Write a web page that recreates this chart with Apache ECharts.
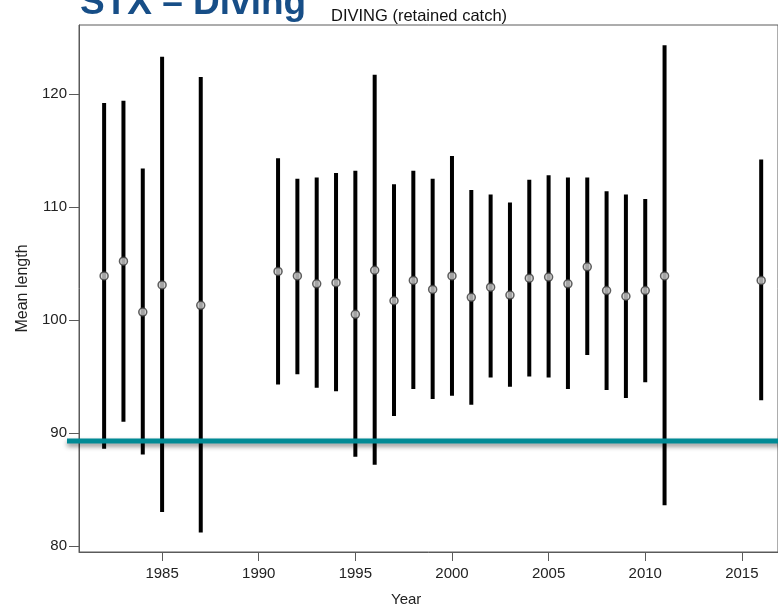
<!DOCTYPE html>
<html>
<head>
<meta charset="utf-8">
<script src="https://cdn.jsdelivr.net/npm/echarts@6/dist/echarts.min.js"></script>
<style>
  html, body { margin: 0; padding: 0; background: #fff; }
  #chart { width: 778px; height: 615px; }
</style>
</head>
<body>
<div id="chart"></div>
<script>
// Mean length of retained catch (diving), with interval bounds per year
const years       = [1982, 1983, 1984, 1985, 1987, 1991, 1992, 1993, 1994, 1995, 1996, 1997, 1998, 1999, 2000, 2001, 2002, 2003, 2004, 2005, 2006, 2007, 2008, 2009, 2010, 2011, 2016];
const meanLength  = [103.9, 105.2, 100.7, 103.1, 101.3, 104.3, 103.9, 103.2, 103.3, 100.5, 104.4, 101.7, 103.5, 102.7, 103.9, 102.0, 102.9, 102.2, 103.7, 103.8, 103.2, 104.7, 102.6, 102.1, 102.6, 103.9, 103.5];
const lowerBound  = [88.6, 91.0, 88.1, 83.0, 81.2, 94.3, 95.2, 94.0, 93.7, 87.9, 87.2, 91.5, 93.9, 93.0, 93.3, 92.5, 94.9, 94.1, 95.0, 94.9, 93.9, 96.9, 93.8, 93.1, 94.5, 83.6, 92.9];
const upperBound  = [119.2, 119.4, 113.4, 123.3, 121.5, 114.3, 112.5, 112.6, 113.0, 113.2, 121.7, 112.0, 113.2, 112.5, 114.5, 111.5, 111.1, 110.4, 112.4, 112.8, 112.6, 112.6, 111.4, 111.1, 110.7, 124.3, 114.2];

// Tick labels
const yearTicks   = [1985, 1990, 1995, 2000, 2005, 2010, 2015];
const lengthTicks = [80, 90, 100, 110, 120];

// Reference length drawn as a horizontal band
const referenceLength = 89.3;

const FONT = '"Liberation Sans", Arial, sans-serif';
const AXIS_GREY = '#5a5a5a';
const X_MIN = 1980.70, X_MAX = 2016.87;

const chart = echarts.init(document.getElementById('chart'), null, { renderer: 'canvas' });

const intervalData = years.map((y, i) => [y, lowerBound[i], upperBound[i]]);
const meanData = years.map((y, i) => [y, meanLength[i]]);

chart.setOption({
  animation: false,
  backgroundColor: '#ffffff',
  grid: {
    left: 79, top: 25, bottom: 63, right: -10,
    show: true, borderColor: AXIS_GREY, borderWidth: 1
  },
  xAxis: {
    type: 'value',
    min: X_MIN, max: X_MAX,
    axisLine: { show: true, onZero: false, lineStyle: { color: AXIS_GREY, width: 1 } },
    axisTick: { show: true, customValues: yearTicks, length: 9, inside: false, lineStyle: { color: AXIS_GREY } },
    axisLabel: {
      customValues: yearTicks, margin: 14, color: '#222', fontFamily: FONT, fontSize: 15,
      formatter: v => String(v)
    },
    splitLine: { show: false }
  },
  yAxis: {
    type: 'value',
    min: 79.47, max: 126.1,
    name: 'Mean length',
    nameLocation: 'middle',
    nameGap: 37,
    nameTextStyle: { color: '#222', fontFamily: FONT, fontSize: 16 },
    axisLine: { show: true, onZero: false, lineStyle: { color: AXIS_GREY, width: 1 } },
    axisTick: { show: true, customValues: lengthTicks, length: 10, lineStyle: { color: AXIS_GREY } },
    axisLabel: { customValues: lengthTicks, margin: 12, color: '#222', fontFamily: FONT, fontSize: 15 },
    splitLine: { show: false }
  },
  series: [
    {
      type: 'custom',
      name: 'interval',
      data: intervalData,
      encode: { x: 0, y: [1, 2] },
      renderItem: function (params, api) {
        const x = api.value(0);
        const p1 = api.coord([x, api.value(1)]);
        const p2 = api.coord([x, api.value(2)]);
        return {
          type: 'line',
          shape: { x1: p1[0], y1: p1[1], x2: p2[0], y2: p2[1] },
          style: { stroke: '#000', lineWidth: 4, lineCap: 'butt' }
        };
      },
      z: 2
    },
    {
      type: 'scatter',
      name: 'mean',
      data: meanData,
      symbol: 'circle',
      symbolSize: 8,
      itemStyle: { color: '#cdcdcd', borderColor: '#3a3a3a', borderWidth: 1.5 },
      z: 3
    }
  ]
});

// Reference band, headline and subtitle placed from the axis scales
const refY = chart.convertToPixel({ yAxisIndex: 0 }, referenceLength);
const axisLeft = chart.convertToPixel({ xAxisIndex: 0 }, X_MIN);

chart.setOption({
  graphic: [
    {
      type: 'line',
      shape: { x1: axisLeft - 12, y1: refY, x2: 790, y2: refY },
      style: {
        stroke: '#008a95', lineWidth: 5,
        shadowBlur: 5, shadowColor: 'rgba(0,0,0,0.45)', shadowOffsetY: 3
      },
      z: 100
    },
    {
      type: 'text',
      left: 80, top: -15,
      style: {
        text: 'STX – Diving',
        fill: '#174e87',
        font: 'bold 37px ' + FONT
      },
      z: 100
    },
    {
      type: 'text',
      left: 331, top: 8,
      style: {
        text: 'DIVING (retained catch)',
        fill: '#111',
        font: '16.5px ' + FONT
      },
      z: 100
    },
    {
      type: 'text',
      left: 391, top: 592,
      style: {
        text: 'Year',
        fill: '#222',
        font: '15px ' + FONT
      },
      z: 100
    }
  ]
});
</script>
</body>
</html>
